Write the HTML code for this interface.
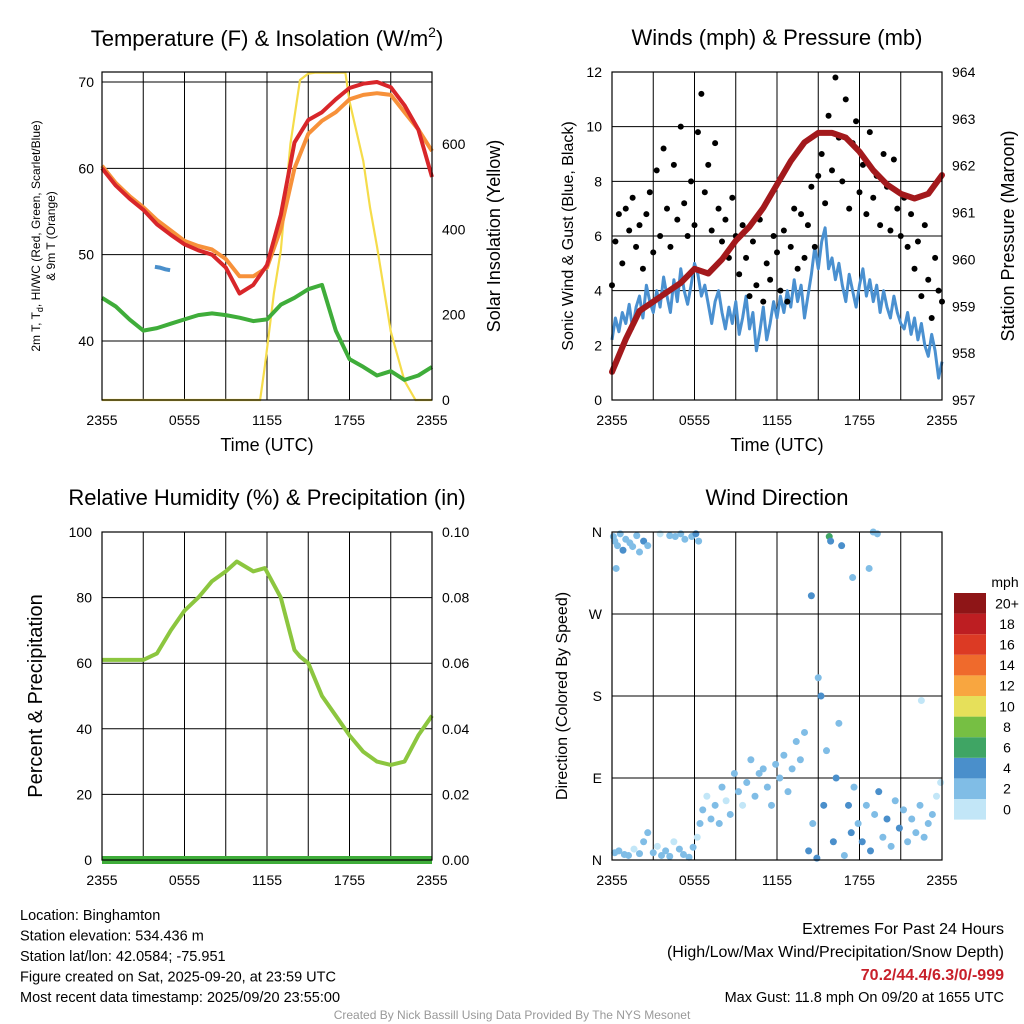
<!DOCTYPE html>
<html><head><meta charset="utf-8"><style>
html,body{margin:0;padding:0;background:#fff}
svg{display:block;font-family:"Liberation Sans",Arial,sans-serif}
</style></head><body>
<svg id="c" width="1024" height="1024" viewBox="0 0 1024 1024" xmlns="http://www.w3.org/2000/svg"></svg>
<script>
// ---- data (hour offsets from 2355 UTC) ----
const hourly=[0,1,2,3,4,5,6,7,8,9,10,11,12,13,14,15,16,17,18,19,20,21,22,23,24];
const tempRed=[60,58,56.5,55.2,53.5,52.3,51.2,50.5,50,48.5,45.5,46.5,48.8,54.6,63,65.6,66.5,68,69.3,69.8,70,69.4,67.3,64.5,59];
const tempOrange=[60.3,58.3,56.8,55.5,54,52.8,51.6,51,50.6,49.5,47.5,47.5,48.5,53,60,64,65.5,66.5,68,68.5,68.7,68.5,66.5,64.5,62];
const dewGreen=[45,44,42.5,41.2,41.5,42,42.5,43,43.2,43,42.7,42.3,42.5,44.2,45,46,46.5,41.2,37.9,37,36,36.5,35.5,36,37];
const chillHours=[3.85,4.2,4.6,4.95];
const chillBlue=[48.6,48.5,48.3,48.2];
const solarHours=[0,11.5,11.85,12.5,13,13.7,14.4,15,15.5,16.5,17.7,18,19,19.5,20,21,22,22.8,24];
const solar=[0,0,80,250,350,600,750,765,767,767,767,700,560,450,360,160,45,0,0];
const windSpeed=[2.2,3.0,2.5,3.2,2.8,3.5,2.6,3.4,3.8,3.0,4.2,3.6,3.2,
4.0,3.4,4.5,3.8,3.2,4.4,3.6,4.8,4.0,3.5,4.2,5.0,
4.6,3.8,4.2,3.5,2.8,3.6,4.0,3.2,2.6,3.4,2.8,3.6,
2.4,3.0,3.8,2.6,3.2,1.8,2.5,3.4,2.2,2.8,3.6,3.0,
3.8,3.2,4.0,3.4,4.4,3.6,4.2,3.0,3.8,4.6,5.6,4.8,
5.8,6.3,4.8,5.2,4.4,5.0,4.2,3.6,4.6,4.0,3.4,4.2,
4.8,3.8,4.4,3.6,4.2,3.2,4.0,3.4,3.0,3.8,3.2,2.8,
2.6,3.2,2.4,3.0,2.2,2.8,2.0,1.6,2.4,1.8,0.8,1.4];
const windGust=[4.2,5.8,6.8,5.0,7.0,6.2,7.4,5.6,6.4,4.8,6.8,7.6,5.4,
8.4,6.0,9.2,7.0,5.6,8.6,6.6,10.0,7.2,6.0,8.0,6.4,
9.8,11.2,7.6,8.6,6.2,9.4,7.0,5.8,6.6,5.2,7.4,6.0,
4.6,6.4,5.2,3.8,5.8,4.2,6.6,3.6,5.0,4.4,6.0,5.4,
4.0,6.2,3.6,5.6,7.0,4.8,6.8,5.2,6.4,7.8,5.6,8.2,
9.0,7.2,10.4,8.4,11.8,9.6,8.0,11.0,7.0,9.4,10.2,7.6,
8.6,6.8,9.8,7.4,8.2,6.4,9.0,7.8,6.2,8.8,7.0,6.0,
7.4,5.6,6.8,4.8,5.8,3.8,6.4,4.4,3.0,5.2,4.0,3.6];
const pressure=[957.6,958.3,958.9,959.1,959.3,959.5,959.8,959.7,960.0,960.4,960.7,961.1,961.6,962.1,962.5,962.7,962.7,962.6,962.3,961.9,961.6,961.4,961.3,961.4,961.8];
const rhHours=[0,1,2,3,4,5,6,7,8,9,9.8,11,11.85,13,14,14.4,15,16,17,18,19,20,21,22,23,24];
const rh=[61,61,61,61,63,70,76,80,85,88,91,88,89,80,64,62,60,50,44,38,33,30,29,30,38,44];
const precip=[0,0];
const precipHours=[0,24];
const dirHour=[0.1,0.2,0.4,0.6,0.8,1.0,1.3,1.5,1.8,2.0,2.3,0.3,2.6,3.5,4.2,4.6,5.0,5.3,5.8,6.1,6.3,
0.2,0.5,0.9,1.2,1.6,2.0,2.3,2.6,3.0,3.3,3.6,3.9,4.2,4.5,4.9,5.2,5.6,5.9,6.2,6.4,
6.6,6.9,7.2,7.5,7.8,8.0,8.3,8.6,8.9,9.2,9.5,9.8,10.1,10.4,10.7,11.0,11.3,11.6,11.9,12.2,12.5,12.8,13.1,13.4,13.7,14.0,
14.3,14.6,14.9,15.2,15.4,15.6,15.8,15.9,16.1,16.3,16.5,16.7,16.9,14.5,15.0,17.2,17.4,17.6,
17.9,18.2,18.5,18.8,19.1,19.4,19.7,20.0,20.3,20.6,20.9,21.2,21.5,21.8,22.1,22.4,22.7,23.0,23.3,23.6,23.9,22.5,19.0,19.3,18.7,17.5];
const dirDeg=[355,350,345,358,340,352,348,344,356,338,350,320,345,358,356,355,358,352,355,358,350,
8,10,6,5,12,7,20,30,8,15,5,10,4,20,12,6,3,14,25,40,
55,70,45,60,40,80,65,50,95,75,60,85,110,70,95,100,80,60,105,90,115,75,100,130,110,140,
10,40,2,180,60,120,355,350,20,90,150,345,5,290,200,60,30,80,
40,20,60,10,50,75,25,45,15,65,35,55,20,45,30,60,25,40,50,70,85,175,360,358,320,310];
const dirSpd=[2,3,2,3,4,2,3,2,3,2,4,3,2,1,2,3,2,3,2,4,3,
3,2,3,2,1,2,2,2,3,1,2,2,3,1,2,3,2,3,1,2,
2,1,2,2,2,2,1,2,2,2,1,2,2,2,2,3,2,2,2,2,2,2,3,2,2,2,
4,3,4,4,4,2,6,4,4,4,3,4,3,4,3,4,4,3,
3,4,3,4,3,4,3,4,3,3,4,3,2,3,2,2,3,2,2,1,1,1,2,3,3,2];
const speedLabels=["0","2","4","6","8","10","12","14","16","18","20+"];
const speedColors=["#c2e6f7","#80bde6","#4a8fcb","#3fa564","#76bf43","#e6e05a","#f8a640","#ef6a2c","#dc3a24","#bd1e22","#8e1517"];

const NS="http://www.w3.org/2000/svg";
const svg=document.getElementById('c');
function mk(tag,attrs,parent){const e=document.createElementNS(NS,tag);for(const k in attrs)e.setAttribute(k,attrs[k]);(parent||svg).appendChild(e);return e;}
function txt(s,x,y,size,anchor,parent,extra){const e=mk('text',Object.assign({x:x,y:y,'font-size':size,'text-anchor':anchor||'middle',fill:'#000'},extra||{}),parent);e.textContent=s;return e;}
function linScale(d0,d1,r0,r1){return v=>r0+(v-d0)*(r1-r0)/(d1-d0);}
function pathD(xs,ys,fx,fy){return xs.map((h,i)=>(i?'L':'M')+fx(h).toFixed(1)+','+fy(ys[i]).toFixed(1)).join('');}

function panel(name,x0,y0,x1,y1,hLines,xLabels){
  const g=mk('g',{});
  
  
  const fx=linScale(0,24,x0,x1);
  for(let h=3;h<24;h+=3){const l=mk('line',{x1:fx(h),x2:fx(h),y1:y0,y2:y1,stroke:'#000','stroke-width':1},g);
    
    }
  hLines.forEach(y=>{const l=mk('line',{x1:x0,x2:x1,y1:y,y2:y,stroke:'#000','stroke-width':1},g);
    
    });
  if(xLabels){const labs=['2355','0555','1155','1755','2355'];
    labs.forEach((s,i)=>{const t=txt(s,fx(i*6),y1+25,14,'middle',g);
      
      });}
  return {g,fx};
}
function frame(g,x0,y0,x1,y1){const r=mk('rect',{x:x0,y:y0,width:x1-x0,height:y1-y0,fill:'none',stroke:'#000','stroke-width':1.2},g);
  
  }

// ===== Panel 1: Temperature =====
{
 const x0=102,y0=72,x1=432,y1=400;
 const fy=linScale(40,70,341,82);
 const fs=linScale(0,600,400,144);
 const P=panel('temperature-panel',x0,y0,x1,y1,[70,60,50,40].map(fy),true);
 const g=P.g,fx=P.fx;
 [70,60,50,40].forEach(v=>{const t=txt(String(v),x0-8,fy(v)+5,14,'end',g);
   
   });
 [0,200,400,600].forEach(v=>{const t=txt(String(v),x1+10,fs(v)+5,14,'start',g);
   
   });
 let p=mk('path',{d:pathD(solarHours,solar,fx,fs),fill:'none',stroke:'#f5dc4a','stroke-width':2.2},g);
 
 
 p=mk('path',{d:pathD(hourly,dewGreen,fx,fy),fill:'none',stroke:'#3fad3a','stroke-width':4,'stroke-linejoin':'round'},g);
 
 
 p=mk('path',{d:pathD(chillHours,chillBlue,fx,fy),fill:'none',stroke:'#4a8fcb','stroke-width':4},g);
 
 
 p=mk('path',{d:pathD(hourly,tempOrange,fx,fy),fill:'none',stroke:'#f7913a','stroke-width':4,'stroke-linejoin':'round'},g);
 
 
 p=mk('path',{d:pathD(hourly,tempRed,fx,fy),fill:'none',stroke:'#d8262a','stroke-width':4,'stroke-linejoin':'round'},g);
 
 
 frame(g,x0,y0,x1,y1);
 let t=txt('',267,53,22,'middle',g);
 t.innerHTML='Temperature (F) &amp; Insolation (W/m<tspan dy="-9" font-size="14">2</tspan><tspan dy="9">)</tspan>';
 t.setAttribute('y','46');
 
 
 t=txt('Time (UTC)',267,451,18,'middle',g);
 
 
 t=txt('',0,0,12,'middle',g,{transform:'translate(40,236) rotate(-90)'});
 t.innerHTML='2m T, T<tspan dy="3" font-size="9">d</tspan><tspan dy="-3">, HI/WC (Red, Green, Scarlet/Blue)</tspan>';
 
 
 t=txt('& 9m T (Orange)',0,0,12,'middle',g,{transform:'translate(55,236) rotate(-90)'});
 
 
 t=txt('Solar Insolation (Yellow)',0,0,18,'middle',g,{transform:'translate(500,236) rotate(-90)'});
 
 
}

// ===== Panel 2: Winds & Pressure =====
{
 const x0=612,y0=72,x1=942,y1=400;
 const fy=linScale(0,12,400,72);
 const fp=linScale(957,964,400,72);
 const P=panel('winds-pressure-panel',x0,y0,x1,y1,[2,4,6,8,10].map(fy),true);
 const g=P.g,fx=P.fx;
 [0,2,4,6,8,10,12].forEach(v=>{const t=txt(String(v),x0-10,fy(v)+5,14,'end',g);
   
   });
 [957,958,959,960,961,962,963,964].forEach(v=>{const t=txt(String(v),x1+10,fp(v)+5,14,'start',g);
   
   });
 const qh=windSpeed.map((_,i)=>i/4);
 let p=mk('path',{d:pathD(qh,windSpeed,fx,fy),fill:'none',stroke:'#4a90d0','stroke-width':3,'stroke-linejoin':'round'},g);
 
 
 windGust.forEach((v,i)=>{const c=mk('circle',{cx:fx(i/4),cy:fy(v),r:3,fill:'#000'},g);
   
   });
 p=mk('path',{d:pathD(hourly,pressure,fx,fp),fill:'none',stroke:'#a3191c','stroke-width':6,'stroke-linejoin':'round','stroke-linecap':'round'},g);
 
 
 frame(g,x0,y0,x1,y1);
 let t=txt('Winds (mph) & Pressure (mb)',777,45,22,'middle',g);
 
 
 t=txt('Time (UTC)',777,451,18,'middle',g);
 
 
 t=txt('Sonic Wind & Gust (Blue, Black)',0,0,16,'middle',g,{transform:'translate(573,236) rotate(-90)'});
 
 
 t=txt('Station Pressure (Maroon)',0,0,18,'middle',g,{transform:'translate(1014,236) rotate(-90)'});
 
 
}

// ===== Panel 3: RH & Precip =====
{
 const x0=102,y0=532,x1=432,y1=860;
 const fy=linScale(0,100,860,532);
 const fq=linScale(0,0.1,860,532);
 const P=panel('humidity-precip-panel',x0,y0,x1,y1,[20,40,60,80].map(fy),true);
 const g=P.g,fx=P.fx;
 [0,20,40,60,80,100].forEach(v=>{const t=txt(String(v),x0-10,fy(v)+5,14,'end',g);
   
   });
 [0,0.02,0.04,0.06,0.08,0.1].forEach(v=>{const t=txt(v.toFixed(2),x1+10,fq(v)+5,14,'start',g);
   
   });
 let p=mk('path',{d:pathD(rhHours,rh,fx,fy),fill:'none',stroke:'#8cc63f','stroke-width':4,'stroke-linejoin':'round'},g);
 
 
 p=mk('path',{d:pathD(precipHours,precip,fx,fq),fill:'none',stroke:'#3fad3a','stroke-width':8},g);
 
 
 frame(g,x0,y0,x1,y1);
 let t=txt('Relative Humidity (%) & Precipitation (in)',267,505,22,'middle',g);
 
 
 t=txt('Percent & Precipitation',0,0,20,'middle',g,{transform:'translate(42,696) rotate(-90)'});
 
 
}

// ===== Panel 4: Wind Direction =====
{
 const x0=612,y0=532,x1=942,y1=860;
 const fy=linScale(0,360,860,532);
 const P=panel('wind-direction-panel',x0,y0,x1,y1,[270,180,90].map(fy),true);
 const g=P.g,fx=P.fx;
 [['N',0],['E',90],['S',180],['W',270],['N',360]].forEach(a=>{const t=txt(a[0],x0-10,fy(a[1])+5,14,'end',g);
   
   });
 dirHour.forEach((h,i)=>{const bin=Math.min(10,Math.floor(dirSpd[i]/2));
   const c=mk('circle',{cx:fx(h),cy:fy(dirDeg[i]),r:3.5,fill:speedColors[bin]},g);
   
   });
 frame(g,x0,y0,x1,y1);
 let t=txt('Wind Direction',777,505,22,'middle',g);
 
 
 t=txt('Direction (Colored By Speed)',0,0,16,'middle',g,{transform:'translate(567,696) rotate(-90)'});
 
 
 // colorbar
 const cb=mk('g',{});
 
 
 const bx=954,bw=32,top=593,bh=20.6;
 speedColors.forEach((col,i)=>{const y=top+(10-i)*bh;
   const r=mk('rect',{x:bx,y:y,width:bw,height:bh,fill:col},cb);
   
   
   const tl=txt(speedLabels[i],bx+53,y+bh/2+5,14,'middle',cb);
   
   });
 t=txt('mph',1005,587,14,'middle',cb);
 
 
}

// ===== Footer text =====
{
 const lines=['Location: Binghamton','Station elevation: 534.436 m','Station lat/lon: 42.0584; -75.951','Figure created on Sat, 2025-09-20, at 23:59 UTC','Most recent data timestamp: 2025/09/20 23:55:00'];
 lines.forEach((s,i)=>{const t=txt(s,20,920+i*20.5,14.5,'start');
   
   });
 let t=txt('Extremes For Past 24 Hours',1004,934,16,'end');
 
 
 t=txt('(High/Low/Max Wind/Precipitation/Snow Depth)',1004,957,16,'end');
 
 
 t=txt('70.2/44.4/6.3/0/-999',1004,980,16,'end',null,{fill:'#c8202a','font-weight':'bold'});
 
 
 t=txt('Max Gust: 11.8 mph On 09/20 at 1655 UTC',1004,1002,14.5,'end');
 
 
 t=txt('Created By Nick Bassill Using Data Provided By The NYS Mesonet',512,1019,12,'middle',null,{fill:'#999'});
 
 
}
</script>
</body></html>
